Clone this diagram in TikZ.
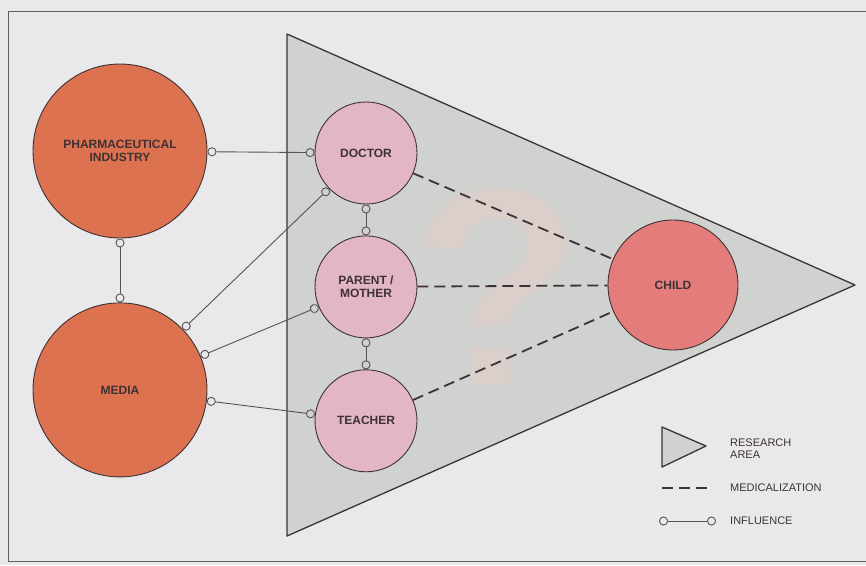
\documentclass[tikz,border=0pt]{standalone}
\usepackage{fontspec}
\setmainfont{Liberation Sans}
\usetikzlibrary{arrows.meta,positioning}
\definecolor{paper}{RGB}{233,233,236}
\definecolor{area}{RGB}{207,210,207}
\definecolor{outerc}{RGB}{221,114,80}
\definecolor{innerc}{RGB}{226,182,196}
\definecolor{childc}{RGB}{228,124,124}
\definecolor{ink}{RGB}{62,50,52}
\definecolor{qmark}{RGB}{219,207,204}
\tikzset{
  actor/.style={
    draw=ink, circle, line width=0.9pt, align=center, inner sep=0pt,
    font=\fontsize{12}{13.5}\selectfont\bfseries, text=ink
  },
  outer/.style={actor, fill=outerc, minimum size=174pt},
  inner/.style={actor, fill=innerc, minimum size=102pt},
  goal/.style={actor, fill=childc, minimum size=130pt},
  influence/.style={
    draw=ink!85, line width=0.9pt,
    {Circle[open,length=9pt,width=9pt]}-{Circle[open,length=9pt,width=9pt]}
  },
  medic/.style={draw=ink, line width=1.8pt, dash pattern=on 11pt off 6pt},
  key/.style={anchor=west, align=left, inner sep=0pt,
    font=\fontsize{11}{12}\selectfont, text=ink},
}
\begin{document}
\begin{tikzpicture}[x=1pt, y=-1pt]
  \path[use as bounding box, fill=paper] (0,0) rectangle (866,565);
  \clip (0,0) rectangle (866,565);
  \draw[ink!80, line width=0.9pt] (8,11) rectangle (900,561);

  % research area
  \draw[fill=area, draw=ink, line width=1.3pt, line join=round]
    (287,34) -- (855,285) -- (287,536) -- cycle;
  \node[text=qmark, font=\fontsize{280}{280}\selectfont\bfseries] (qm) at (497,287) {?};

  % actors
  \node[outer] (pharma) at (120,151) {PHARMACEUTICAL\\INDUSTRY};
  \node[outer, below=64pt of pharma] (media) {MEDIA};
  \node[inner] (doctor) at (366,153) {DOCTOR};
  \node[inner, below=31pt of doctor] (parent) {PARENT /\\MOTHER};
  \node[inner, below=31pt of parent] (teacher) {TEACHER};
  \node[goal] (child) at (673,285) {CHILD};

  \draw[influence] (pharma) -- (doctor);
  \draw[influence] (pharma) -- (media);
  \draw[influence] (media) -- (doctor);
  \draw[influence] (media) -- (parent);
  \draw[influence] (media) -- (teacher);
  \draw[influence] (doctor) -- (parent);
  \draw[influence] (parent) -- (teacher);

  \draw[medic] (doctor) -- (child);
  \draw[medic] (parent) -- (child);
  \draw[medic] (teacher) -- (child);

  % legend
  \draw[fill=area, draw=ink, line width=1.3pt, line join=round]
    (662,427) -- (706,446) -- (662,467) -- cycle;
  \node[key] (areakey) at (730,449) {RESEARCH\\AREA};
  \coordinate (med1) at (662,488);
  \coordinate (med2) at (712,488);
  \draw[medic] (med1) -- (med2);
  \node[key] (medkey) at (730,488) {MEDICALIZATION};
  \coordinate (inf1) at (659,521);
  \coordinate (inf2) at (716,521);
  \draw[influence] (inf1) -- (inf2);
  \node[key] (infkey) at (730,521) {INFLUENCE};
\end{tikzpicture}
\end{document}
